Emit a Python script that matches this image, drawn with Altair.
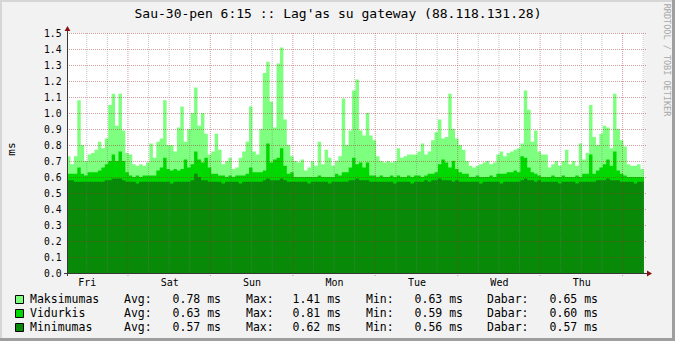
import json
import altair as alt
import pandas as pd

# ---------------- data ----------------
TITLE = "Sau-30-pen 6:15 :: Lag'as su gateway (88.118.131.28)"
Y_TITLE = "ms"
CREDIT = "RRDTOOL / TOBI OETIKER"
DAY_LABELS = ["Fri", "Sat", "Sun", "Mon", "Tue", "Wed", "Thu"]
START_HOUR = 6.25          # graph starts Friday 6:15
HOURS = 168                # one week, hourly samples
Y_TICKS = [0.0, 0.1, 0.2, 0.3, 0.4, 0.5, 0.6, 0.7, 0.8, 0.9, 1.0, 1.1, 1.2, 1.3, 1.4, 1.5]

MAX_MS = [
    0.73, 0.68, 0.73, 1.08, 0.80, 0.70, 0.74, 0.75, 0.77, 0.82, 0.78, 0.84,
    1.05, 1.12, 0.92, 1.12, 0.89, 0.75, 0.74, 0.68, 0.67, 0.68, 0.67, 0.69,
    0.81, 0.72, 0.82, 0.84, 1.08, 0.80, 0.80, 0.76, 0.91, 1.04, 0.82, 0.90,
    1.00, 1.16, 0.92, 1.00, 0.87, 0.74, 0.76, 0.87, 0.77, 0.68, 0.70, 0.72,
    0.65, 0.66, 0.72, 0.76, 0.82, 1.04, 0.76, 0.74, 0.90, 1.25, 1.32, 1.07,
    0.91, 1.31, 1.41, 0.96, 0.80, 0.73, 0.70, 0.69, 0.71, 0.64, 0.66, 0.70,
    0.67, 0.82, 0.68, 0.77, 0.72, 0.67, 0.70, 0.73, 1.09, 0.80, 0.89, 1.14,
    1.21, 0.89, 0.86, 1.00, 0.86, 0.83, 0.73, 0.70, 0.69, 0.70, 0.69, 0.70,
    0.78, 0.72, 0.73, 0.74, 0.74, 0.74, 0.76, 0.81, 0.74, 0.76, 0.83, 0.88,
    0.96, 0.84, 0.85, 1.12, 0.90, 0.84, 0.80, 0.77, 0.70, 0.67, 0.66, 0.67,
    0.68, 0.69, 0.70, 0.68, 0.69, 0.74, 0.76, 0.73, 0.75, 0.76, 0.77, 0.78,
    0.81, 1.14, 1.02, 0.82, 0.89, 0.76, 0.74, 0.74, 0.66, 0.68, 0.70, 0.67,
    0.70, 0.77, 0.68, 0.70, 0.67, 0.81, 0.71, 0.75, 1.05, 0.85, 0.80, 0.87,
    0.92, 0.91, 0.78, 1.12, 0.90, 0.83, 0.79, 0.68, 0.67, 0.67, 0.68, 0.65,
]
AVG_MS = [
    0.62, 0.62, 0.62, 0.66, 0.62, 0.61, 0.63, 0.63, 0.63, 0.64, 0.66, 0.68,
    0.70, 0.74, 0.70, 0.76, 0.70, 0.63, 0.61, 0.60, 0.61, 0.60, 0.61, 0.61,
    0.61, 0.61, 0.64, 0.66, 0.72, 0.65, 0.64, 0.65, 0.64, 0.65, 0.71, 0.66,
    0.68, 0.76, 0.71, 0.69, 0.72, 0.66, 0.62, 0.62, 0.61, 0.61, 0.60, 0.61,
    0.60, 0.61, 0.61, 0.61, 0.62, 0.66, 0.63, 0.63, 0.63, 0.64, 0.81, 0.69,
    0.71, 0.72, 0.78, 0.67, 0.62, 0.63, 0.60, 0.60, 0.60, 0.60, 0.60, 0.60,
    0.60, 0.61, 0.60, 0.60, 0.60, 0.60, 0.62, 0.61, 0.63, 0.63, 0.66, 0.72,
    0.68, 0.69, 0.66, 0.69, 0.61, 0.61, 0.60, 0.61, 0.60, 0.60, 0.61, 0.60,
    0.61, 0.60, 0.60, 0.61, 0.60, 0.61, 0.61, 0.60, 0.61, 0.62, 0.62, 0.63,
    0.68, 0.71, 0.69, 0.66, 0.70, 0.65, 0.63, 0.62, 0.62, 0.60, 0.60, 0.61,
    0.60, 0.60, 0.60, 0.61, 0.60, 0.62, 0.62, 0.62, 0.63, 0.63, 0.64, 0.63,
    0.73, 0.72, 0.66, 0.63, 0.62, 0.61, 0.60, 0.60, 0.60, 0.61, 0.60, 0.60,
    0.61, 0.60, 0.60, 0.60, 0.61, 0.60, 0.62, 0.62, 0.74, 0.62, 0.64, 0.66,
    0.68, 0.71, 0.67, 0.76, 0.64, 0.62, 0.61, 0.60, 0.60, 0.60, 0.60, 0.60,
]
MIN_MS = [
    0.58, 0.58, 0.57, 0.57, 0.57, 0.57, 0.57, 0.57, 0.57, 0.57, 0.57, 0.58,
    0.58, 0.59, 0.59, 0.59, 0.58, 0.57, 0.57, 0.57, 0.56, 0.57, 0.57, 0.57,
    0.57, 0.57, 0.57, 0.57, 0.57, 0.57, 0.56, 0.57, 0.57, 0.57, 0.57, 0.57,
    0.58, 0.62, 0.60, 0.58, 0.58, 0.57, 0.57, 0.57, 0.57, 0.56, 0.57, 0.57,
    0.57, 0.57, 0.56, 0.57, 0.57, 0.57, 0.57, 0.57, 0.57, 0.58, 0.59, 0.58,
    0.58, 0.58, 0.59, 0.58, 0.57, 0.57, 0.57, 0.57, 0.57, 0.57, 0.56, 0.57,
    0.57, 0.57, 0.57, 0.57, 0.56, 0.57, 0.57, 0.57, 0.57, 0.57, 0.58, 0.58,
    0.59, 0.58, 0.58, 0.58, 0.57, 0.57, 0.57, 0.57, 0.57, 0.57, 0.57, 0.56,
    0.57, 0.57, 0.57, 0.57, 0.56, 0.57, 0.57, 0.57, 0.58, 0.57, 0.58, 0.58,
    0.59, 0.58, 0.58, 0.58, 0.57, 0.58, 0.57, 0.57, 0.57, 0.57, 0.57, 0.57,
    0.56, 0.57, 0.57, 0.57, 0.57, 0.57, 0.56, 0.57, 0.57, 0.57, 0.57, 0.57,
    0.58, 0.59, 0.58, 0.58, 0.57, 0.58, 0.57, 0.57, 0.57, 0.57, 0.57, 0.56,
    0.57, 0.57, 0.57, 0.57, 0.56, 0.57, 0.57, 0.57, 0.57, 0.57, 0.58, 0.58,
    0.58, 0.59, 0.58, 0.58, 0.58, 0.57, 0.57, 0.57, 0.57, 0.56, 0.57, 0.57,
]

SERIES_NAMES = ["Maksimumas", "Vidurkis", "Minimumas"]
SERIES_FIELDS = ["max", "avg", "min"]
SERIES_COLORS = ["#7FFF7F", "#00D900", "#088908"]
STAT_AVG = [0.78, 0.63, 0.57]
STAT_MAX = [1.41, 0.81, 0.62]
STAT_MIN = [0.63, 0.59, 0.56]
STAT_NOW = [0.65, 0.60, 0.57]
STAT_LABELS = ["Avg:", "Max:", "Min:", "Dabar:"]

assert len(MAX_MS) == HOURS and len(AVG_MS) == HOURS and len(MIN_MS) == HOURS

# ---------------- layout ----------------
TOTAL_W, TOTAL_H = 675, 341
PL, PT = 67, 33
W, H = 577, 240
PR, PB = TOTAL_W - PL - W, TOTAL_H - PT - H
FONT = "DejaVu Sans Mono"
BACK = "#F2F2F2"
MGRID = "#A02828"
GRID = "#7A7A7A"
ARROW = "#8B1010"
AXIS = "#383838"

def ext(a):
    return a + [a[-1]]

df = pd.DataFrame({
    "t": list(range(HOURS + 1)),
    "max": ext(MAX_MS),
    "avg": ext(AVG_MS),
    "min": ext(MIN_MS),
})

noon = [12 - START_HOUR + 24 * k for k in range(7)]
six_h = [6 * k - START_HOUR % 6 for k in range(1, 30) if 0 < 6 * k - START_HOUR % 6 < HOURS]
midnights = [t for t in six_h if (t + START_HOUR) % 24 == 0]
minors = [t for t in six_h if (t + START_HOUR) % 24 != 0]

xs = alt.Scale(domain=[0, HOURS], nice=False, zero=False)
ys = alt.Scale(domain=[0, 1.5], nice=False)
label_expr = json.dumps(DAY_LABELS) + "[floor(datum.value / 24)]"
xa = alt.Axis(values=noon, labelExpr=label_expr, title=None, domain=False, ticks=False,
              grid=False, labelFont=FONT, labelFontSize=10, labelColor="#000000",
              labelPadding=4, labelAngle=0, labelFlush=False, labelOverlap=False)
ya = alt.Axis(values=Y_TICKS, format=".1f", title=None, domain=False, ticks=False,
              grid=False, labelFont=FONT, labelFontSize=9.7, labelColor="#000000",
              labelPadding=6, labelFlush=False, labelOverlap=False)

ONE = pd.DataFrame({"k": [0]})
layers = []

# areas: max, avg, min drawn over one another
for field, color in zip(SERIES_FIELDS, SERIES_COLORS):
    layers.append(
        alt.Chart(df).mark_area(interpolate="step-after", color=color, opacity=1)
        .encode(x=alt.X("t:Q", scale=xs, axis=xa), y=alt.Y(f"{field}:Q", scale=ys, axis=ya))
    )

# horizontal grid (major, each labelled value)
layers.append(
    alt.Chart(pd.DataFrame({"v": Y_TICKS[1:]}))
    .mark_rule(color=MGRID, opacity=0.45, strokeDash=[1, 1], strokeWidth=1, yOffset=0.5)
    .encode(y=alt.Y("v:Q", scale=ys, axis=ya), x=alt.value(0), x2=alt.value(W + 3))
)
# vertical minor grid every 6 hours
layers.append(
    alt.Chart(pd.DataFrame({"t": minors}))
    .mark_rule(color=GRID, opacity=0.45, strokeDash=[1, 1], strokeWidth=1)
    .encode(x=alt.X("t:Q", scale=xs, axis=xa), y=alt.value(0), y2=alt.value(H))
)
# vertical major grid at midnight
layers.append(
    alt.Chart(pd.DataFrame({"t": midnights}))
    .mark_rule(color=MGRID, opacity=0.45, strokeDash=[1, 1], strokeWidth=1)
    .encode(x=alt.X("t:Q", scale=xs, axis=xa), y=alt.value(0), y2=alt.value(H + 3))
)

# axis lines
layers.append(alt.Chart(ONE).mark_rule(color=AXIS, strokeWidth=1)
              .encode(x=alt.value(-3), x2=alt.value(W + 4), y=alt.value(H + 0.5)))
layers.append(alt.Chart(ONE).mark_rule(color=AXIS, strokeWidth=1)
              .encode(x=alt.value(0.5), y=alt.value(-4), y2=alt.value(H + 3)))
# arrows
layers.append(alt.Chart(ONE).mark_point(shape="triangle-up", filled=True, size=34, color=ARROW, opacity=1)
              .encode(x=alt.value(0.5), y=alt.value(-4.5)))
layers.append(alt.Chart(ONE).mark_point(shape="triangle-right", filled=True, size=34, color=ARROW, opacity=1)
              .encode(x=alt.value(W + 5.5), y=alt.value(H + 0.5)))


def text_at(s, x, y, size, align="left", baseline="alphabetic", color="#000000", angle=0):
    return (alt.Chart(pd.DataFrame({"s": [s]}))
            .mark_text(align=align, baseline=baseline, font=FONT, fontSize=size, color=color, angle=angle)
            .encode(x=alt.value(x - PL), y=alt.value(y - PT), text="s:N"))


def rect_at(x1, x2, y1, y2, fill, stroke=None):
    kw = {"color": fill}
    if stroke:
        kw.update(stroke=stroke, strokeWidth=1)
    return (alt.Chart(ONE).mark_rect(**kw)
            .encode(x=alt.value(x1 - PL), x2=alt.value(x2 - PL), y=alt.value(y1 - PT), y2=alt.value(y2 - PT)))


# title, axis title, credit
layers.append(text_at(TITLE, 338, 18, 13, align="center"))
layers.append(text_at(Y_TITLE, 12, 149, 11, align="center", baseline="middle", angle=270))
layers.append(text_at(CREDIT, 666.5, 60, 8.5, align="center", baseline="middle", color="#A8A8A8", angle=90))

# legend
row_base = [303, 317, 331]
for i in range(3):
    yb = row_base[i]
    layers.append(rect_at(15.5, 23.5, yb - 7.5, yb + 0.5, SERIES_COLORS[i], stroke="#000000"))
    layers.append(text_at(SERIES_NAMES[i], 30, yb, 11.5))
    vals = [STAT_AVG[i], STAT_MAX[i], STAT_MIN[i], STAT_NOW[i]]
    lab_x = [124, 246, 366, 487]
    val_x = [221, 341, 463, 598]
    for lab, lx, v, vx in zip(STAT_LABELS, lab_x, vals, val_x):
        layers.append(text_at(lab, lx, yb, 11.5))
        layers.append(text_at(f"{v:.2f} ms", vx, yb, 11.5, align="right"))

# outer frame shading
layers.append(rect_at(0, TOTAL_W, 0, 2, "#D6D6D6"))
layers.append(rect_at(0, 2, 0, TOTAL_H, "#D6D6D6"))
layers.append(rect_at(TOTAL_W - 3, TOTAL_W, 0, TOTAL_H, "#9E9E9E"))
layers.append(rect_at(0, TOTAL_W, TOTAL_H - 3, TOTAL_H, "#9E9E9E"))

chart = (
    alt.layer(*layers)
    .properties(width=W, height=H, background=BACK,
                autosize=alt.AutoSizeParams(type="none"),
                padding={"left": PL, "top": PT, "right": PR, "bottom": PB})
    .configure_view(fill="white", strokeWidth=0)
)

chart.save("out.html", embed_options={"renderer": "svg", "actions": False})
